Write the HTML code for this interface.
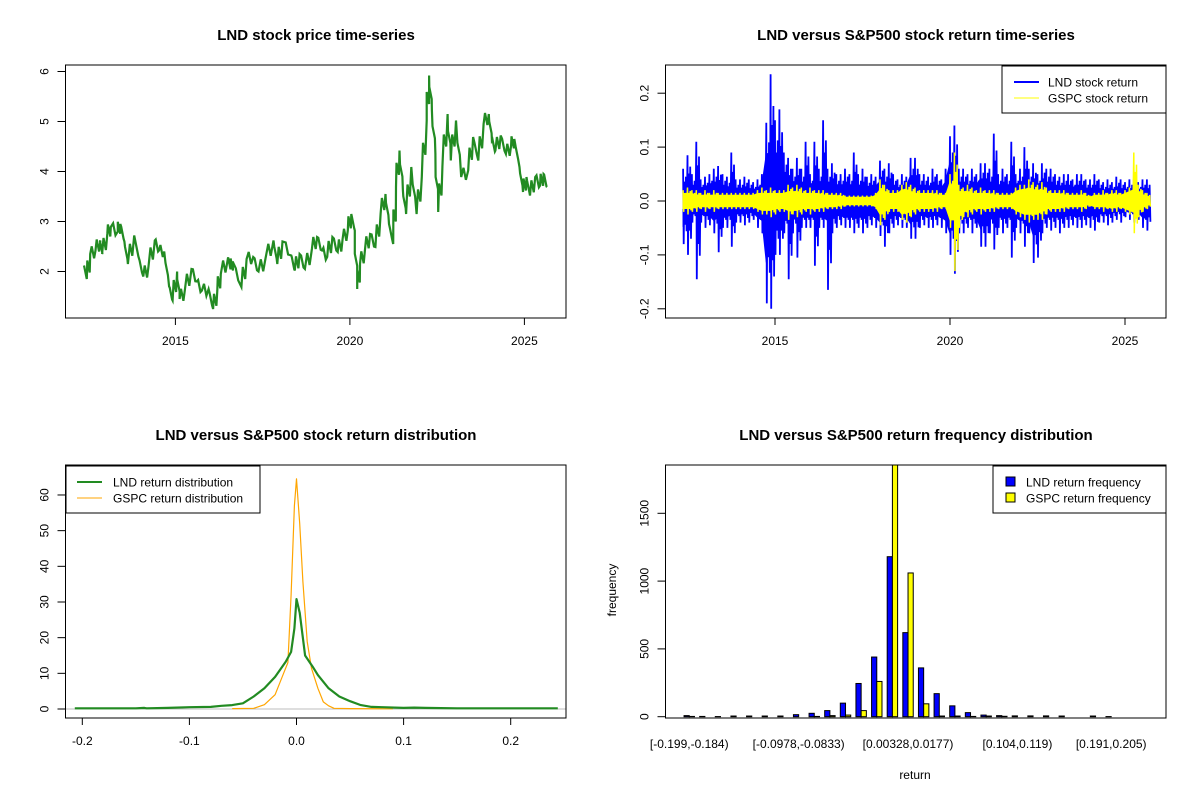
<!DOCTYPE html>
<html><head><meta charset="utf-8"><style>
html,body{margin:0;padding:0;background:#fff}
svg{display:block}
text{font-family:"Liberation Sans",Arial,sans-serif;fill:#000}
</style></head><body>
<svg id="root" width="1200" height="800" viewBox="0 0 1200 800" xmlns="http://www.w3.org/2000/svg"></svg>
<script>
// ---- Plot 1: price ----
const priceYears=[2012.38,2012.46,2012.56,2012.71,2012.85,2012.90,2013.05,2013.15,2013.35,2013.42,2013.54,2013.64,2013.82,2013.94,2014.08,2014.23,2014.41,2014.53,2014.68,2014.82,2014.92,2015.05,2015.12,2015.27,2015.46,2015.61,2015.76,2015.95,2016.08,2016.20,2016.30,2016.50,2016.59,2016.64,2016.89,2017.04,2017.23,2017.38,2017.58,2017.81,2017.92,2018.07,2018.32,2018.42,2018.56,2018.71,2018.91,2019.06,2019.20,2019.35,2019.50,2019.65,2019.79,2019.94,2020.04,2020.14,2020.21,2020.29,2020.43,2020.58,2020.73,2020.88,2021.02,2021.12,2021.24,2021.32,2021.42,2021.52,2021.61,2021.76,2021.91,2022.06,2022.20,2022.27,2022.35,2022.45,2022.53,2022.65,2022.80,2022.89,2023.04,2023.19,2023.39,2023.53,2023.68,2023.83,2023.98,2024.07,2024.17,2024.32,2024.47,2024.62,2024.71,2024.86,2024.96,2025.06,2025.16,2025.31,2025.45,2025.55,2025.65];
const priceValues=[2.12,1.85,2.35,2.42,2.62,2.35,2.75,2.89,2.8,2.95,2.6,2.15,2.72,2.3,1.9,2.1,2.62,2.42,2.4,1.7,1.42,2.0,1.45,1.62,2.05,1.8,1.62,1.65,1.25,1.62,1.95,2.25,2.08,2.2,1.69,2.25,2.29,2.0,2.25,2.62,2.15,2.6,2.32,2.02,2.35,2.05,2.45,2.69,2.42,2.29,2.69,2.39,2.65,2.82,3.15,2.82,1.65,2.15,2.42,2.75,2.49,3.15,3.55,2.95,2.55,3.69,4.42,3.62,3.15,4.09,3.15,3.89,5.02,5.92,5.22,4.35,3.19,4.09,5.15,4.22,5.02,3.89,4.02,4.69,4.22,4.95,5.15,4.62,4.42,4.72,4.35,4.52,4.65,4.09,3.59,3.89,3.52,3.89,3.72,3.95,3.69];
const priceTicks=[2,3,4,5,6];
const yearTicks=[2015,2020,2025];
// ---- Plot 2: returns (envelopes every 0.125 yr from 2012.375) ----
const retStart=2012.375, retStep=0.125;
const lndHigh=[.06,.085,.05,.11,.04, .045,.05,.06,.065,.05,.045,.09,.04, .04,.045,.04,.035,.04,.05,.145,.235, .15,.17,.09,.08,.06,.08,.06,.11, .05,.11,.06,.15,.06,.07,.05,.05, .06,.05,.09,.05,.06,.045,.05,.045, .075,.06,.07,.05,.04,.05,.045,.08, .08,.05,.05,.045,.06,.05,.04,.06, .12,.14,.06,.06,.05,.06,.05,.07, .07,.06,.125,.05,.06,.05,.11,.05, .06,.1,.06,.07,.05,.07,.06,.06, .05,.045,.05,.05,.04,.05,.05,.04, .04,.05,.04,.035,.04,.035,.045,.04, .035,.04,.04,.035,.04,.04];
const lndLow=[-.08,-.1,-.04,-.145,-.04, -.05,-.045,-.06,-.095,-.05,-.05,-.085,-.04, -.04,-.045,-.04,-.035,-.05,-.06,-.19,-.2, -.1,-.1,-.06,-.145,-.06,-.105,-.05,-.05, -.05,-.12,-.05,-.05,-.165,-.06,-.05,-.045, -.05,-.05,-.06,-.05,-.06,-.05,-.045,-.05, -.065,-.085,-.06,-.05,-.045,-.05,-.05,-.07, -.07,-.05,-.045,-.05,-.05,-.045,-.05,-.06, -.1,-.135,-.06,-.06,-.05,-.06,-.05,-.085, -.085,-.06,-.09,-.05,-.06,-.05,-.105,-.05, -.06,-.085,-.06,-.115,-.105,-.06,-.05,-.055, -.05,-.06,-.05,-.05,-.045,-.05,-.05,-.045, -.05,-.055,-.04,-.04,-.045,-.04,-.035,-.04, -.03,-.035,-.04,-.035,-.05,-.055];
const gspcHigh=[.02,.025,.02,.02,.015, .02,.015,.02,.015,.015,.015,.015,.015, .015,.015,.015,.015,.02,.025,.02,.025, .02,.02,.02,.03,.025,.03,.025,.02, .025,.02,.02,.02,.015,.015,.015,.015, .01,.01,.01,.01,.01,.01,.01,.015, .04,.03,.02,.02,.02,.03,.035,.03, .025,.02,.02,.02,.02,.02,.015,.015, .05,.09,.03,.025,.03,.025,.02,.025, .02,.02,.02,.015,.015,.015,.015,.025, .03,.03,.04,.035,.03,.035,.025,.02, .02,.02,.02,.015,.015,.015,.02,.015, .01,.015,.015,.02,.015,.02,.02,.015, .02,.025,.09,.03,.02,.015];
const gspcLow=[-.02,-.025,-.02,-.02,-.015, -.02,-.015,-.02,-.015,-.015,-.015,-.015,-.015, -.015,-.015,-.015,-.015,-.02,-.025,-.025,-.03, -.025,-.02,-.02,-.035,-.025,-.03,-.025,-.02, -.025,-.02,-.02,-.02,-.015,-.015,-.015,-.015, -.01,-.01,-.01,-.01,-.01,-.01,-.01,-.015, -.045,-.035,-.02,-.02,-.02,-.035,-.04,-.03, -.025,-.02,-.02,-.02,-.02,-.02,-.015,-.015, -.05,-.13,-.05,-.03,-.03,-.025,-.02,-.025, -.02,-.02,-.02,-.015,-.015,-.015,-.015,-.025, -.03,-.035,-.04,-.035,-.035,-.035,-.025,-.02, -.02,-.02,-.02,-.015,-.015,-.015,-.02,-.015, -.01,-.015,-.015,-.02,-.015,-.02,-.02,-.015, -.02,-.025,-.06,-.03,-.02,-.015];
const retTicks=[-0.2,-0.1,0.0,0.1,0.2];
const retTickLabels=["-0.2","-0.1","0.0","0.1","0.2"];
// ---- Plot 3: density ----
const lndDensX=[-0.207,-0.15,-0.142,-0.14,-0.12,-0.1,-0.08,-0.07,-0.06,-0.05,-0.04,-0.03,-0.02,-0.01,-0.005,-0.002,0,0.003,0.008,0.015,0.02,0.03,0.04,0.05,0.06,0.07,0.08,0.1,0.11,0.12,0.15,0.2,0.244];
const lndDensY=[0.2,0.2,0.3,0.2,0.3,0.5,0.6,0.9,1.1,1.6,3.5,5.8,9,13.3,16,22.6,30.8,27,15,11.9,9.5,5.8,3.5,2.2,1.1,0.6,0.5,0.3,0.4,0.3,0.2,0.2,0.2];
const gspcDensX=[-0.06,-0.04,-0.03,-0.02,-0.012,-0.008,-0.005,-0.002,0,0.003,0.006,0.01,0.014,0.02,0.025,0.03,0.035,0.05,0.09];
const gspcDensY=[0.1,0.2,1.2,4,10,13,32,57,64.5,52,35.7,18.9,11.4,5.8,2,0.9,0.2,0.1,0.05];
const densYTicks=[0,10,20,30,40,50,60];
const densXTicks=[-0.2,-0.1,0.0,0.1,0.2];
const densXLabels=["-0.2","-0.1","0.0","0.1","0.2"];
// ---- Plot 4: histogram ----
const lndFreq=[8,2,1,5,5,5,5,15,25,45,100,245,440,1180,620,360,170,80,30,12,8,6,6,6,5,0,5,1,0,0];
const gspcFreq=[2,0,0,0,0,0,0,0,2,8,12,45,260,1950,1060,95,5,5,2,5,3,0,0,0,0,0,0,0,0,0];
const binLabels=["[-0.199,-0.184)","[-0.0978,-0.0833)","[0.00328,0.0177)","[0.104,0.119)","[0.191,0.205)"];
const binLabelIdx=[0,7,14,21,27];
const freqTicks=[0,500,1000,1500];

const NS="http://www.w3.org/2000/svg";
const root=document.getElementById('root');
function mk(tag,attrs,parent){const e=document.createElementNS(NS,tag);for(const k in attrs)e.setAttribute(k,attrs[k]);(parent||root).appendChild(e);return e;}
function txt(s,x,y,attrs,parent){const e=mk('text',Object.assign({x:x,y:y,'text-anchor':'middle'},attrs||{}),parent);e.textContent=s;return e;}
function grp(name){const g=mk('g',{});return g;}
function box(g,x0,y0,x1,y1){const r=mk('rect',{x:x0,y:y0,width:x1-x0,height:y1-y0,fill:'none',stroke:'#000','stroke-width':1},g);}
function yTick(g,x0,y,label){mk('line',{x1:x0-8,x2:x0,y1:y,y2:y,stroke:'#000'},g);const t=txt(label,x0-20,y,{'font-size':12,transform:'rotate(-90 '+(x0-20)+' '+y+')','dominant-baseline':'middle'},g);}
function xTick(g,x,y0,label){mk('line',{x1:x,x2:x,y1:y0,y2:y0+7,stroke:'#000'},g);const t=txt(label,x,y0+27,{'font-size':12},g);}
function title(g,s,x,y){const t=txt(s,x,y,{'font-size':15,'font-weight':'bold'},g);}

// Plot 1
(function(){
const g=grp('price-chart');
const X=yr=>175.4+(yr-2015)*34.9, Y=v=>271.5-(v-2)*50;
title(g,'LND stock price time-series',316,40);
let d='';
priceYears.forEach((t,i)=>{
  d+=(i?'L':'M')+X(t).toFixed(1)+','+Y(priceValues[i]).toFixed(1);
  if(i<priceYears.length-1){
    const tm=(t+priceYears[i+1])/2, vm=(priceValues[i]+priceValues[i+1])/2;
    const a=X(tm)-1.2, b=X(tm)+1.2;
    d+='L'+a.toFixed(1)+','+Y(vm+0.12).toFixed(1)+'L'+b.toFixed(1)+','+Y(vm-0.12).toFixed(1);
  }
});
const p=mk('path',{d:d,fill:'none',stroke:'#228B22','stroke-width':2.2,'stroke-linejoin':'miter'},g);

box(g,65.5,65,566,318);
priceTicks.forEach(v=>yTick(g,65.5,Y(v),String(v)));
yearTicks.forEach(v=>xTick(g,X(v),318,String(v)));
})();

// Plot 2
(function(){
const g=grp('return-timeseries-chart');
const X=yr=>775+(yr-2015)*35.0, Y=v=>201-v*539;
title(g,'LND versus S&P500 stock return time-series',916,40);
const cp=mk('clipPath',{id:'c2'},g);mk('rect',{x:666,y:65,width:500,height:253},cp);
function band(hi,lo,col,w,name,cf){
 let d2='';
 hi.forEach((h,i)=>{const i2=Math.min(i+1,hi.length-1);d2+=(i?'L':'M')+X(retStart+i*retStep).toFixed(1)+','+Y(Math.min(h,hi[i2])*cf).toFixed(1);});
 for(let i=hi.length-1;i>=0;i--){const i2=Math.min(i+1,hi.length-1);d2+='L'+X(retStart+i*retStep).toFixed(1)+','+Y(Math.max(lo[i],lo[i2])*cf).toFixed(1);}
 const c=mk('path',{d:d2+'Z',fill:col,stroke:col,'stroke-width':1},g);
 let d='';
 hi.forEach((h,i)=>{const x=X(retStart+i*retStep);const s=retStep*35/4;
  d+=(i?'L':'M')+x.toFixed(1)+','+Y(h).toFixed(1)+'L'+(x+s*0.5).toFixed(1)+','+Y(lo[i]).toFixed(1)
   +'L'+(x+s*1.2).toFixed(1)+','+Y(h*0.6).toFixed(1)+'L'+(x+s*1.8).toFixed(1)+','+Y(lo[i]*0.55).toFixed(1)
   +'L'+(x+s*2.5).toFixed(1)+','+Y(h*0.75).toFixed(1)+'L'+(x+s*3.2).toFixed(1)+','+Y(lo[i]*0.7).toFixed(1);});
 const p=mk('path',{d:d,fill:'none',stroke:col,'stroke-width':w,'clip-path':'url(#c2)'},g);
 
}
band(lndHigh,lndLow,'#0000FF',1.8,'lnd-return-line',0.6);
band(gspcHigh,gspcLow,'#FFFF00',1.5,'gspc-return-line',0.7);
box(g,665.5,65,1166,318);
retTicks.forEach((v,i)=>yTick(g,665.5,Y(v),retTickLabels[i]));
yearTicks.forEach(v=>xTick(g,X(v),318,String(v)));
const lg=grp('return-legend');g.appendChild(lg);
mk('rect',{x:1002,y:66,width:164,height:47,fill:'#fff',stroke:'#000'},lg);
mk('line',{x1:1014,x2:1039,y1:82,y2:82,stroke:'#0000FF','stroke-width':2},lg);
mk('line',{x1:1014,x2:1039,y1:98,y2:98,stroke:'#FFFF00','stroke-width':1},lg);
txt('LND stock return',1048,86.5,{'font-size':12,'text-anchor':'start'},lg);
txt('GSPC stock return',1048,102.5,{'font-size':12,'text-anchor':'start'},lg);
})();

// Plot 3
(function(){
const g=grp('density-chart');
const X=v=>296.5+v*1071, Y=d=>709-d*3.567;
title(g,'LND versus S&P500 stock return distribution',316,440);
const base=mk('line',{x1:66,x2:566,y1:Y(0),y2:Y(0),stroke:'#BEBEBE'},g);
const pg=mk('path',{d:gspcDensX.map((x,i)=>(i?'L':'M')+X(x).toFixed(1)+','+Y(gspcDensY[i]).toFixed(1)).join(''),fill:'none',stroke:'#FFA500','stroke-width':1.2,'stroke-linejoin':'round'},g);

const pl=mk('path',{d:lndDensX.map((x,i)=>(i?'L':'M')+X(x).toFixed(1)+','+Y(lndDensY[i]).toFixed(1)).join(''),fill:'none',stroke:'#228B22','stroke-width':2.2,'stroke-linejoin':'round'},g);

box(g,65.5,465,566,718);
densYTicks.forEach(v=>yTick(g,65.5,Y(v),String(v)));
densXTicks.forEach((v,i)=>xTick(g,X(v),718,densXLabels[i]));
const lg=grp('density-legend');g.appendChild(lg);
mk('rect',{x:66,y:466,width:194,height:47,fill:'#fff',stroke:'#000'},lg);
mk('line',{x1:77,x2:102,y1:482,y2:482,stroke:'#228B22','stroke-width':2},lg);
mk('line',{x1:77,x2:102,y1:498,y2:498,stroke:'#FFA500','stroke-width':1},lg);
txt('LND return distribution',113,486.5,{'font-size':12,'text-anchor':'start'},lg);
txt('GSPC return distribution',113,502.5,{'font-size':12,'text-anchor':'start'},lg);
})();

// Plot 4
(function(){
const g=grp('histogram-chart');
const U=u=>665.5+(u+2.56)*5.209, Y=v=>716.7-v*0.1356;
title(g,'LND versus S&P500 return frequency distribution',916,440);
const cp=mk('clipPath',{id:'c4'},g);mk('rect',{x:665.5,y:465,width:500.5,height:253},cp);
lndFreq.forEach((v,i)=>{const x=U(1+3*i);const r=mk('rect',{x:x,y:Y(v),width:5.209,height:716.7-Y(v),fill:'#0000FF',stroke:'#000','stroke-width':1,'clip-path':'url(#c4)'},g);
 });
gspcFreq.forEach((v,i)=>{const x=U(2+3*i);const r=mk('rect',{x:x,y:Y(v),width:5.209,height:716.7-Y(v),fill:'#FFFF00',stroke:'#000','stroke-width':1,'clip-path':'url(#c4)'},g);
 });
box(g,665.5,465,1166,718);
freqTicks.forEach(v=>yTick(g,665.5,Y(v),String(v)));
binLabelIdx.forEach((bi,k)=>{const t=txt(binLabels[k],U(2+3*bi),748,{'font-size':12},g);});
const yl=txt('frequency',616,590,{'font-size':12,transform:'rotate(-90 616 590)'},g);
const xl=txt('return',915,779,{'font-size':12},g);
const lg=grp('histogram-legend');g.appendChild(lg);
mk('rect',{x:993,y:466,width:173,height:47,fill:'#fff',stroke:'#000'},lg);
mk('rect',{x:1006,y:477,width:9,height:9,fill:'#0000FF',stroke:'#000'},lg);
mk('rect',{x:1006,y:493,width:9,height:9,fill:'#FFFF00',stroke:'#000'},lg);
txt('LND return frequency',1026,486.5,{'font-size':12,'text-anchor':'start'},lg);
txt('GSPC return frequency',1026,502.5,{'font-size':12,'text-anchor':'start'},lg);
})();
</script>
</body></html>
